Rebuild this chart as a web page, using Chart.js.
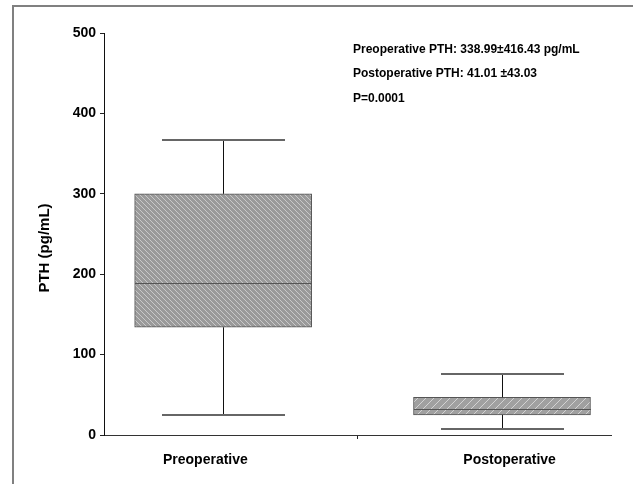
<!DOCTYPE html>
<html>
<head>
<meta charset="utf-8">
<script src="https://cdn.jsdelivr.net/npm/chart.js@4.4.0/dist/chart.umd.min.js"></script>
<style>
  html, body { margin: 0; padding: 0; background: #fff; }
  canvas { display: block; }
</style>
</head>
<body>
<canvas id="c" width="633" height="484"></canvas>
<script>
// ---- data ----
const categories   = ['Preoperative', 'Postoperative'];
const whiskerLow   = [25, 7.5];
const q1           = [134, 25];
const median       = [189, 32];
const q3           = [300, 47];
const whiskerHigh  = [367, 76];
const yTicks       = [0, 100, 200, 300, 400, 500];
const notes = [
  'Preoperative PTH: 338.99\u00b1416.43 pg/mL',
  'Postoperative PTH: 41.01 \u00b143.03',
  'P=0.0001'
];
const yTitle = 'PTH (pg/mL)';

// ---- layout (not data) ----
const boxPos   = [2.35, 7.85];   // x positions of boxes on linear axis
const labelPos = [2, 8];         // x positions of category labels
const midTick  = 5;

function hatch(dir, period, bg, fg) {
  const c = document.createElement('canvas');
  c.width = period; c.height = period;
  const g = c.getContext('2d');
  g.fillStyle = bg; g.fillRect(0, 0, period, period);
  g.strokeStyle = fg; g.lineWidth = 1;
  for (const o of [-period, 0, period]) {
    g.beginPath();
    if (dir === 'back') { g.moveTo(o, 0); g.lineTo(o + period, period); }
    else { g.moveTo(o, period); g.lineTo(o + period, 0); }
    g.stroke();
  }
  return g.createPattern(c, 'repeat');
}
const ctx0 = document.getElementById('c').getContext('2d');
const fills = [
  hatch('back', 5, '#9a9a9a', '#c9c9c9'),
  hatch('fwd', 8, '#a0a0a0', '#d2d2d2')
];

const framePlugin = {
  id: 'frame',
  beforeDraw(chart) {
    const g = chart.ctx;
    g.save();
    g.fillStyle = '#fff';
    g.fillRect(0, 0, chart.width, chart.height);
    g.strokeStyle = '#808080';
    g.lineWidth = 2;
    g.beginPath();
    g.moveTo(13, chart.height);
    g.lineTo(13, 6);
    g.lineTo(chart.width, 6);
    g.stroke();
    g.restore();
  },
  afterDraw(chart) {
    const g = chart.ctx;
    g.save();
    g.fillStyle = '#000';
    g.font = 'bold 12px "Liberation Sans", Arial, sans-serif';
    g.textBaseline = 'alphabetic';
    g.textAlign = 'left';
    const base = [53, 77, 102];
    notes.forEach((t, i) => g.fillText(t, 353, base[i]));
    // y title
    g.translate(45, 248);
    g.rotate(-Math.PI / 2);
    g.font = 'bold 15px "Liberation Sans", Arial, sans-serif';
    g.textAlign = 'center';
    g.textBaseline = 'middle';
    g.fillText(yTitle, 0, 0);
    g.restore();
  }
};

const boxPlugin = {
  id: 'boxes',
  afterDatasetsDraw(chart) {
    const g = chart.ctx;
    const xs = chart.scales.x, ys = chart.scales.y;
    const half = chart.data.datasets[0].barThickness / 2;
    const capHalf = 61.5;
    g.save();
    categories.forEach((c, i) => {
      const x = Math.round(xs.getPixelForValue(boxPos[i])) + 0.5;
      const yLo = ys.getPixelForValue(whiskerLow[i]);
      const yQ1 = ys.getPixelForValue(q1[i]);
      const yMd = Math.round(ys.getPixelForValue(median[i])) + 0.5;
      const yQ3 = ys.getPixelForValue(q3[i]);
      const yHi = ys.getPixelForValue(whiskerHigh[i]);
      g.strokeStyle = '#111';
      g.lineWidth = 1;
      g.beginPath();
      g.moveTo(x, yQ3); g.lineTo(x, yHi);
      g.moveTo(x, yQ1); g.lineTo(x, yLo);
      g.stroke();
      g.strokeStyle = '#666';
      g.lineWidth = 2;
      g.beginPath();
      g.moveTo(x - capHalf, Math.round(yHi)); g.lineTo(x + capHalf, Math.round(yHi));
      g.moveTo(x - capHalf, Math.round(yLo)); g.lineTo(x + capHalf, Math.round(yLo));
      g.stroke();
      g.strokeStyle = '#555';
      g.lineWidth = 1;
      g.beginPath();
      g.moveTo(x - half, yMd); g.lineTo(x + half, yMd);
      g.stroke();
    });
    g.restore();
  }
};

new Chart(ctx0, {
  type: 'bar',
  data: {
    datasets: [{
      data: categories.map((c, i) => ({ x: boxPos[i], y: [q1[i], q3[i]] })),
      backgroundColor: fills,
      borderColor: '#555',
      borderWidth: 1,
      borderSkipped: false,
      barThickness: 177
    }]
  },
  options: {
    responsive: false,
    animation: false,
    events: [],
    layout: { padding: { top: 33, right: 22, left: 0, bottom: 0 } },
    plugins: { legend: { display: false }, tooltip: { enabled: false } },
    scales: {
      x: {
        type: 'linear',
        min: 0, max: 10,
        offset: false,
        afterFit(s) { s.height = 49; },
        afterBuildTicks(s) { s.ticks = [labelPos[0], midTick, labelPos[1]].map(v => ({ value: v })); },
        grid: {
          offset: false,
          drawOnChartArea: false,
          tickLength: 4,
          color: (c) => (c.tick && c.tick.value === midTick) ? '#222' : 'rgba(0,0,0,0)'
        },
        border: { display: true, color: '#333', width: 1 },
        ticks: {
          autoSkip: false,
          maxRotation: 0,
          padding: 13,
          color: '#000',
          font: { family: '"Liberation Sans", Arial, sans-serif', size: 14, weight: 'bold' },
          callback: (v) => v === labelPos[0] ? categories[0] : (v === labelPos[1] ? categories[1] : '')
        }
      },
      y: {
        min: 0, max: 500,
        afterFit(s) { s.width = 104; },
        afterBuildTicks(s) { s.ticks = yTicks.map(v => ({ value: v })); },
        grid: { drawOnChartArea: false, tickLength: 4, color: '#222' },
        border: { display: true, color: '#111', width: 1 },
        ticks: {
          padding: 4,
          color: '#000',
          font: { family: '"Liberation Sans", Arial, sans-serif', size: 14, weight: 'bold' }
        }
      }
    }
  },
  plugins: [framePlugin, boxPlugin]
});
</script>
</body>
</html>
